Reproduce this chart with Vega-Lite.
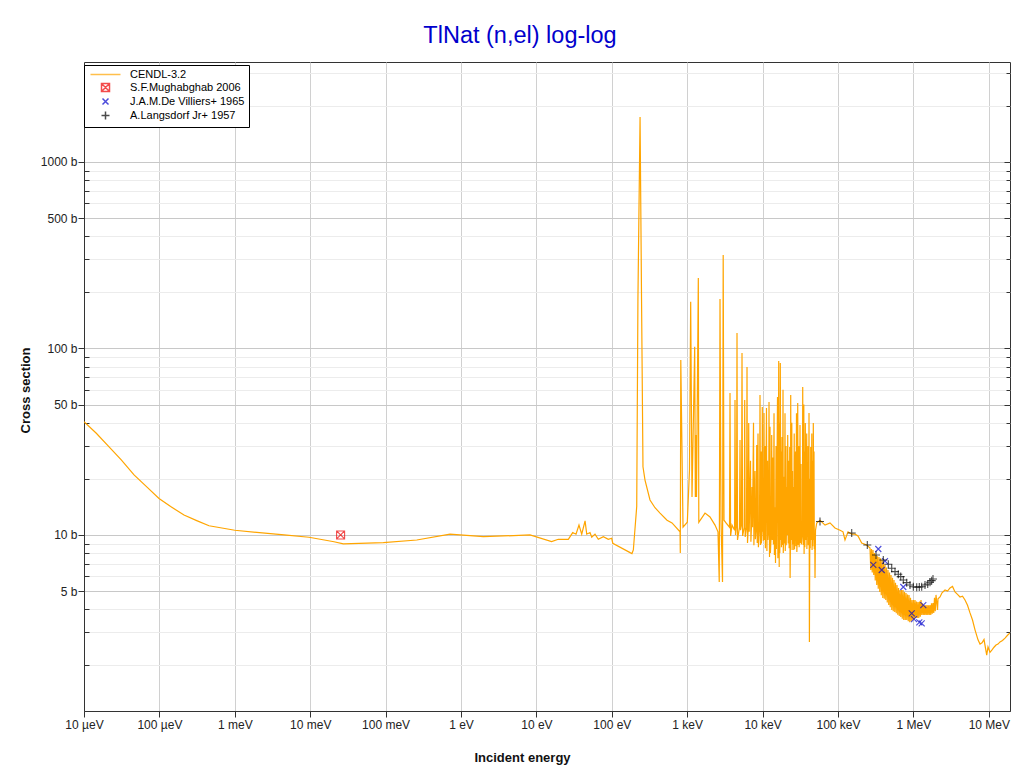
{
  "$schema": "https://vega.github.io/schema/vega-lite/v6.json",
  "width": 926,
  "height": 649,
  "autosize": {"type": "none"},
  "padding": {"left": 84, "top": 62, "right": 14, "bottom": 62},
  "background": "white",
  "title": {"text": "TlNat (n,el) log-log", "font": "Liberation Sans", "fontSize": 23.5, "fontWeight": "normal", "color": "#0000cc", "anchor": "middle", "dx": -27, "offset": 15},
  "config": {
    "view": {"stroke": "#333333", "strokeWidth": 1},
    "font": "Liberation Sans",
    "axis": {"labelFont": "Liberation Sans", "titleFont": "Liberation Sans", "labelFontSize": 12, "labelColor": "#222222", "domainColor": "#333333", "tickColor": "#333333", "titleFontSize": 13, "titleFontWeight": "bold", "titleColor": "#111111"},
    "legend": {"labelFont": "Liberation Sans"}
  },
  "datasets": {
    "cendl": [
      {"E": 1e-5, "xs": 40.5}, {"E": 1.456e-5, "xs": 35.1}, {"E": 2.15e-5, "xs": 29.7}, {"E": 3.12e-5, "xs": 25.3}, {"E": 4.61e-5, "xs": 21.0}, {"E": 6.91e-5, "xs": 18.0}, {"E": 9.88e-5, "xs": 15.7},
      {"E": 1.41e-4, "xs": 14.2}, {"E": 2.12e-4, "xs": 12.8}, {"E": 3.18e-4, "xs": 11.9}, {"E": 4.55e-4, "xs": 11.2}, {"E": 1e-3, "xs": 10.6}, {"E": 4.5e-3, "xs": 10.0},
      {"E": 9.64e-3, "xs": 9.72}, {"E": 0.0207, "xs": 9.2}, {"E": 0.0275, "xs": 8.95}, {"E": 0.0933, "xs": 9.09},
      {"E": 0.259, "xs": 9.4}, {"E": 0.714, "xs": 10.1}, {"E": 1.98, "xs": 9.79}, {"E": 8.22, "xs": 10.0},
      {"E": 15.9, "xs": 9.21}, {"E": 19.5, "xs": 9.48}, {"E": 26.5, "xs": 9.48}, {"E": 30.3, "xs": 10.3},
      {"E": 33.5, "xs": 10.1}, {"E": 36.7, "xs": 11.3}, {"E": 39.9, "xs": 10.1}, {"E": 44.2, "xs": 11.9},
      {"E": 46.5, "xs": 10.1}, {"E": 51.4, "xs": 10.3}, {"E": 54.2, "xs": 9.72}, {"E": 59.9, "xs": 10.1},
      {"E": 66.2, "xs": 9.48}, {"E": 77.2, "xs": 9.79}, {"E": 89.9, "xs": 9.48}, {"E": 99.7, "xs": 9.6},
      {"E": 103, "xs": 9.03}, {"E": 175, "xs": 8.04}, {"E": 185, "xs": 7.95}, {"E": 193, "xs": 8.31},
      {"E": 214, "xs": 14.2}, {"E": 222, "xs": 182}, {"E": 237, "xs": 1742}, {"E": 248, "xs": 182},
      {"E": 259, "xs": 23.2}, {"E": 275.6, "xs": 19.7}, {"E": 321, "xs": 15.4}, {"E": 374, "xs": 14.0}, {"E": 436, "xs": 13.1}, {"E": 540, "xs": 12.0}, {"E": 629, "xs": 11.6}, {"E": 803, "xs": 10.4},
      {"E": 810, "xs": 8.0}, {"E": 822, "xs": 86.8}, {"E": 880, "xs": 11.0}, {"E": 1003, "xs": 11.7},
      {"E": 1072, "xs": 22.3}, {"E": 1112, "xs": 178}, {"E": 1158, "xs": 16.0}, {"E": 1257, "xs": 102},
      {"E": 1282, "xs": 16.0}, {"E": 1309, "xs": 34.4}, {"E": 1328, "xs": 16.0}, {"E": 1404, "xs": 239},
      {"E": 1425, "xs": 11.7}, {"E": 1722, "xs": 13.1}, {"E": 2006, "xs": 12.5}, {"E": 2338, "xs": 11.3},
      {"E": 2560, "xs": 10.4}, {"E": 2660, "xs": 5.6}, {"E": 2723, "xs": 184}, {"E": 2806, "xs": 12.0},
      {"E": 2939, "xs": 5.6}, {"E": 3001, "xs": 317}, {"E": 3076, "xs": 12.0}, {"E": 3271, "xs": 11.6},
      {"E": 3639, "xs": 11.0}, {"E": 3695, "xs": 57.7}, {"E": 3763, "xs": 9.88}, {"E": 3928, "xs": 11.3},
      {"E": 4253, "xs": 10.6}, {"E": 4305, "xs": 53.0}, {"E": 4371, "xs": 10.0}, {"E": 4506, "xs": 11.3},
      {"E": 4576, "xs": 121}, {"E": 4646, "xs": 9.4}, {"E": 4938, "xs": 11.0}, {"E": 5015, "xs": 32.3},
      {"E": 5092, "xs": 10.6}, {"E": 5250, "xs": 11.3}, {"E": 5331, "xs": 94.6}, {"E": 5429, "xs": 9.88},
      {"E": 5719, "xs": 11.0}, {"E": 5789, "xs": 53.0}, {"E": 5878, "xs": 9.76}, {"E": 6117, "xs": 11.0},
      {"E": 6211, "xs": 79.6}, {"E": 6306, "xs": 9.06}, {"E": 6462, "xs": 11.0}, {"E": 6541, "xs": 39.9},
      {"E": 6643, "xs": 10.4}, {"E": 7127, "xs": 11.3}, {"E": 7236, "xs": 18.1}, {"E": 7345, "xs": 11.0},
      {"E": 8227, "xs": 10.9}, {"E": 8354, "xs": 30.4}, {"E": 8482, "xs": 9.06}, {"E": 9097, "xs": 11.0},
      {"E": 9237, "xs": 56.3}, {"E": 9379, "xs": 8.84}, {"E": 9817, "xs": 10.6}, {"E": 9908, "xs": 48.6},
      {"E": 10060, "xs": 10.4}, {"E": 10340, "xs": 10.9}, {"E": 10430, "xs": 45.1}, {"E": 10600, "xs": 9.4},
      {"E": 12010, "xs": 10.9}, {"E": 12160, "xs": 51.6}, {"E": 12350, "xs": 7.62}, {"E": 13040, "xs": 10.4},
      {"E": 13200, "xs": 34.4}, {"E": 13410, "xs": 9.4}, {"E": 14430, "xs": 10.0}, {"E": 14600, "xs": 14.1},
      {"E": 14830, "xs": 7.08}, {"E": 16150, "xs": 10.6}, {"E": 16350, "xs": 85.7}, {"E": 16600, "xs": 6.74},
      {"E": 17010, "xs": 11.0}, {"E": 17170, "xs": 83.6}, {"E": 17430, "xs": 9.4}, {"E": 17920, "xs": 10.4},
      {"E": 18080, "xs": 33.5}, {"E": 18360, "xs": 8.84}, {"E": 19050, "xs": 10.4}, {"E": 19220, "xs": 20.5},
      {"E": 19520, "xs": 9.0}, {"E": 20690, "xs": 10.4}, {"E": 20870, "xs": 18.1}, {"E": 21200, "xs": 10.0},
      {"E": 21520, "xs": 34.4}, {"E": 21850, "xs": 9.0}, {"E": 22670, "xs": 10.0}, {"E": 22880, "xs": 29.6},
      {"E": 23160, "xs": 5.88}, {"E": 23440, "xs": 10.0}, {"E": 23590, "xs": 56.3}, {"E": 23950, "xs": 9.4},
      {"E": 25310, "xs": 10.4}, {"E": 25540, "xs": 18.1}, {"E": 25930, "xs": 8.31}, {"E": 28940, "xs": 10.4},
      {"E": 29210, "xs": 51.0}, {"E": 29660, "xs": 8.84}, {"E": 31050, "xs": 10.0}, {"E": 31330, "xs": 38.9},
      {"E": 31820, "xs": 9.06}, {"E": 33730, "xs": 10.4}, {"E": 34040, "xs": 62.2}, {"E": 34560, "xs": 8.84},
      {"E": 36500, "xs": 10.6}, {"E": 36840, "xs": 39.9}, {"E": 37400, "xs": 9.4}, {"E": 38810, "xs": 10.6},
      {"E": 39160, "xs": 21.5}, {"E": 39770, "xs": 9.76}, {"E": 40870, "xs": 10.4}, {"E": 41250, "xs": 45.1},
      {"E": 41750, "xs": 2.67}, {"E": 43050, "xs": 10.0}, {"E": 43450, "xs": 29.6}, {"E": 44120, "xs": 9.4},
      {"E": 46610, "xs": 10.4}, {"E": 47030, "xs": 39.9}, {"E": 47760, "xs": 9.4}, {"E": 49090, "xs": 10.0},
      {"E": 49550, "xs": 5.88}, {"E": 50300, "xs": 10.6}, {"E": 52180, "xs": 11.6}, {"E": 57700, "xs": 12.0},
      {"E": 6910, "xs": 25}, {"E": 6993, "xs": 9.2}, {"E": 7574, "xs": 40}, {"E": 7665, "xs": 8.8},
      {"E": 7930, "xs": 22}, {"E": 8025, "xs": 9.5}, {"E": 8690, "xs": 35}, {"E": 8794, "xs": 8.6},
      {"E": 9524, "xs": 28}, {"E": 9638, "xs": 9.0}, {"E": 10120, "xs": 20}, {"E": 10240, "xs": 9.3},
      {"E": 10760, "xs": 30}, {"E": 10890, "xs": 8.5}, {"E": 11260, "xs": 48}, {"E": 11400, "xs": 8.2},
      {"E": 11620, "xs": 25}, {"E": 11760, "xs": 9.4}, {"E": 12540, "xs": 38}, {"E": 12690, "xs": 8.0},
      {"E": 13740, "xs": 26}, {"E": 13900, "xs": 8.9}, {"E": 14170, "xs": 45}, {"E": 14340, "xs": 7.8},
      {"E": 15060, "xs": 30}, {"E": 15240, "xs": 8.4}, {"E": 15760, "xs": 55}, {"E": 15950, "xs": 7.5},
      {"E": 16810, "xs": 40}, {"E": 16900, "xs": 8.0}, {"E": 17700, "xs": 28}, {"E": 17790, "xs": 8.6},
      {"E": 18650, "xs": 60}, {"E": 18800, "xs": 8.0}, {"E": 19820, "xs": 45}, {"E": 19980, "xs": 8.2},
      {"E": 20430, "xs": 30}, {"E": 20560, "xs": 8.8}, {"E": 22320, "xs": 25}, {"E": 22480, "xs": 8.5},
      {"E": 24390, "xs": 40}, {"E": 24620, "xs": 8.3}, {"E": 24920, "xs": 22}, {"E": 25100, "xs": 8.9},
      {"E": 26250, "xs": 35}, {"E": 26500, "xs": 8.4}, {"E": 27320, "xs": 28}, {"E": 27600, "xs": 8.7},
      {"E": 28150, "xs": 45}, {"E": 28450, "xs": 8.1}, {"E": 30210, "xs": 30}, {"E": 30500, "xs": 8.6},
      {"E": 32310, "xs": 24}, {"E": 32600, "xs": 8.9}, {"E": 35190, "xs": 50}, {"E": 35500, "xs": 7.9},
      {"E": 36060, "xs": 28}, {"E": 36300, "xs": 8.6}, {"E": 38460, "xs": 35}, {"E": 38650, "xs": 8.4},
      {"E": 40010, "xs": 30}, {"E": 40300, "xs": 8.8}, {"E": 42520, "xs": 20}, {"E": 42800, "xs": 8.5},
      {"E": 44930, "xs": 35}, {"E": 45300, "xs": 8.3}, {"E": 45900, "xs": 25}, {"E": 46250, "xs": 8.7},
      {"E": 48050, "xs": 28}, {"E": 48500, "xs": 8.4},
      {"E": 67300, "xs": 11.3}, {"E": 78340, "xs": 11.6}, {"E": 91200, "xs": 10.9}, {"E": 106400, "xs": 10.6},
      {"E": 116500, "xs": 10.4}, {"E": 123800, "xs": 9.4}, {"E": 135800, "xs": 10.4}, {"E": 152000, "xs": 10.1},
      {"E": 168100, "xs": 10.1}, {"E": 184100, "xs": 9.88}, {"E": 206100, "xs": 9.06}, {"E": 240300, "xs": 8.84},
      {"E": 265700, "xs": 8.52}, {"E": 271900, "xs": 6.49}, {"E": 278200, "xs": 8.4}, {"E": 284600, "xs": 6.3},
      {"E": 291200, "xs": 8.31}, {"E": 297900, "xs": 6.1}, {"E": 304900, "xs": 8.0}, {"E": 311900, "xs": 5.7},
      {"E": 319200, "xs": 7.81}, {"E": 326600, "xs": 5.39}, {"E": 334200, "xs": 7.7}, {"E": 341900, "xs": 5.15},
      {"E": 349900, "xs": 7.62}, {"E": 358000, "xs": 4.95}, {"E": 366300, "xs": 7.5}, {"E": 374800, "xs": 4.75},
      {"E": 383500, "xs": 7.34}, {"E": 392400, "xs": 4.6}, {"E": 401500, "xs": 7.1}, {"E": 410800, "xs": 4.55},
      {"E": 420200, "xs": 6.91}, {"E": 429900, "xs": 4.48}, {"E": 439900, "xs": 6.7}, {"E": 450100, "xs": 4.35},
      {"E": 460400, "xs": 6.49}, {"E": 471100, "xs": 4.21}, {"E": 482000, "xs": 6.3}, {"E": 493100, "xs": 4.1},
      {"E": 504600, "xs": 6.1}, {"E": 516300, "xs": 3.96}, {"E": 528300, "xs": 5.9}, {"E": 540500, "xs": 3.9},
      {"E": 552900, "xs": 5.74}, {"E": 565700, "xs": 3.86}, {"E": 578800, "xs": 5.55}, {"E": 592200, "xs": 3.8},
      {"E": 606000, "xs": 5.39}, {"E": 620100, "xs": 3.73}, {"E": 634400, "xs": 5.2}, {"E": 649100, "xs": 3.68},
      {"E": 664200, "xs": 5.07}, {"E": 679600, "xs": 3.63}, {"E": 695300, "xs": 5.07}, {"E": 711400, "xs": 3.55},
      {"E": 727900, "xs": 5.07}, {"E": 744800, "xs": 3.5}, {"E": 762000, "xs": 4.95}, {"E": 779700, "xs": 3.5},
      {"E": 797700, "xs": 4.89}, {"E": 816200, "xs": 3.5}, {"E": 835100, "xs": 4.8}, {"E": 854400, "xs": 3.45},
      {"E": 874200, "xs": 4.77}, {"E": 894500, "xs": 3.41}, {"E": 915200, "xs": 4.6}, {"E": 936400, "xs": 3.45},
      {"E": 958100, "xs": 4.48}, {"E": 980300, "xs": 3.5}, {"E": 1003000, "xs": 4.48}, {"E": 1026000, "xs": 3.55},
      {"E": 1050000, "xs": 4.48}, {"E": 1074000, "xs": 3.59}, {"E": 1099000, "xs": 4.4}, {"E": 1125000, "xs": 3.59},
      {"E": 1151000, "xs": 4.37}, {"E": 1178000, "xs": 3.59}, {"E": 1205000, "xs": 4.4}, {"E": 1233000, "xs": 3.65},
      {"E": 1261000, "xs": 4.48}, {"E": 1290000, "xs": 3.73}, {"E": 1320000, "xs": 4.3}, {"E": 1351000, "xs": 3.73},
      {"E": 1382000, "xs": 4.21}, {"E": 1414000, "xs": 3.73}, {"E": 1447000, "xs": 4.2}, {"E": 1480000, "xs": 3.73},
      {"E": 1515000, "xs": 4.21}, {"E": 1550000, "xs": 3.73}, {"E": 1586000, "xs": 4.2}, {"E": 1623000, "xs": 3.73},
      {"E": 1660000, "xs": 4.21}, {"E": 1699000, "xs": 3.73}, {"E": 1738000, "xs": 4.3}, {"E": 1778000, "xs": 3.78},
      {"E": 1819000, "xs": 4.32}, {"E": 1861000, "xs": 3.82}, {"E": 1904000, "xs": 4.6}, {"E": 1948000, "xs": 3.9},
      {"E": 1994000, "xs": 4.77}, {"E": 2088000, "xs": 3.96}, {"E": 2120000, "xs": 4.55}, {"E": 2253000, "xs": 4.65},
      {"E": 2395000, "xs": 4.9}, {"E": 2625000, "xs": 5.07}, {"E": 2834000, "xs": 5.0}, {"E": 3058000, "xs": 5.2},
      {"E": 3301000, "xs": 5.3}, {"E": 3562000, "xs": 4.95}, {"E": 3845000, "xs": 4.8}, {"E": 4150000, "xs": 4.65},
      {"E": 4480000, "xs": 4.7}, {"E": 4835000, "xs": 4.48}, {"E": 5219000, "xs": 4.2}, {"E": 5632000, "xs": 3.82},
      {"E": 6079000, "xs": 3.5}, {"E": 6561000, "xs": 3.1}, {"E": 7192000, "xs": 2.74}, {"E": 7643000, "xs": 2.6},
      {"E": 8125000, "xs": 2.64}, {"E": 8637000, "xs": 2.75}, {"E": 9378000, "xs": 2.27}, {"E": 9759000, "xs": 2.51},
      {"E": 10370000, "xs": 2.35}, {"E": 11030000, "xs": 2.42}, {"E": 11720000, "xs": 2.5}, {"E": 12460000, "xs": 2.57},
      {"E": 13240000, "xs": 2.6}, {"E": 14080000, "xs": 2.67}, {"E": 15190000, "xs": 2.72}, {"E": 16400000, "xs": 2.8},
      {"E": 17700000, "xs": 2.9}, {"E": 19110000, "xs": 2.98}
    ],
    "exp": [
      {"E": 0.0253, "xs": 10.0, "series": "S.F.Mughabghab 2006"},
      {"E": 293900, "xs": 6.91, "series": "J.A.M.De Villiers+ 1965"},
      {"E": 342400, "xs": 8.41, "series": "J.A.M.De Villiers+ 1965"},
      {"E": 379900, "xs": 6.49, "series": "J.A.M.De Villiers+ 1965"},
      {"E": 420200, "xs": 7.25, "series": "J.A.M.De Villiers+ 1965"},
      {"E": 734500, "xs": 5.26, "series": "J.A.M.De Villiers+ 1965"},
      {"E": 949600, "xs": 3.8, "series": "J.A.M.De Villiers+ 1965"},
      {"E": 1019000, "xs": 3.54, "series": "J.A.M.De Villiers+ 1965"},
      {"E": 1197000, "xs": 3.4, "series": "J.A.M.De Villiers+ 1965"},
      {"E": 1288000, "xs": 3.36, "series": "J.A.M.De Villiers+ 1965"},
      {"E": 1353000, "xs": 4.21, "series": "J.A.M.De Villiers+ 1965"},
      {"E": 57700, "xs": 11.8, "series": "A.Langsdorf Jr+ 1957"},
      {"E": 152000, "xs": 10.25, "series": "A.Langsdorf Jr+ 1957"},
      {"E": 244700, "xs": 8.84, "series": "A.Langsdorf Jr+ 1957"},
      {"E": 319200, "xs": 7.81, "series": "A.Langsdorf Jr+ 1957"},
      {"E": 398900, "xs": 7.34, "series": "A.Langsdorf Jr+ 1957"},
      {"E": 464700, "xs": 6.96, "series": "A.Langsdorf Jr+ 1957"},
      {"E": 515500, "xs": 6.63, "series": "A.Langsdorf Jr+ 1957"},
      {"E": 570200, "xs": 6.36, "series": "A.Langsdorf Jr+ 1957"},
      {"E": 630500, "xs": 6.16, "series": "A.Langsdorf Jr+ 1957"},
      {"E": 678600, "xs": 5.98, "series": "A.Langsdorf Jr+ 1957"},
      {"E": 734500, "xs": 5.74, "series": "A.Langsdorf Jr+ 1957"},
      {"E": 815000, "xs": 5.55, "series": "A.Langsdorf Jr+ 1957"},
      {"E": 901200, "xs": 5.39, "series": "A.Langsdorf Jr+ 1957"},
      {"E": 997000, "xs": 5.28, "series": "A.Langsdorf Jr+ 1957"},
      {"E": 1106000, "xs": 5.24, "series": "A.Langsdorf Jr+ 1957"},
      {"E": 1197000, "xs": 5.26, "series": "A.Langsdorf Jr+ 1957"},
      {"E": 1288000, "xs": 5.28, "series": "A.Langsdorf Jr+ 1957"},
      {"E": 1425000, "xs": 5.39, "series": "A.Langsdorf Jr+ 1957"},
      {"E": 1548000, "xs": 5.46, "series": "A.Langsdorf Jr+ 1957"},
      {"E": 1660000, "xs": 5.58, "series": "A.Langsdorf Jr+ 1957"},
      {"E": 1748000, "xs": 5.69, "series": "A.Langsdorf Jr+ 1957"},
      {"E": 1819000, "xs": 5.81, "series": "A.Langsdorf Jr+ 1957"}
    ]
  },
  "encoding": {
    "x": {"field": "E", "type": "quantitative", "scale": {"type": "log", "domain": [1e-5, 1.91e7], "nice": false},
      "axis": {"orient": "bottom", "values": [1e-5, 1e-4, 1e-3, 1e-2, 0.1, 1, 10, 100, 1000, 1e4, 1e5, 1e6, 1e7],
        "labelExpr": "datum.value < 0.0009 ? format(datum.value*1e6,'.0f')+' µeV' : datum.value < 0.9 ? format(datum.value*1e3,'.0f')+' meV' : datum.value < 900 ? format(datum.value,'.0f')+' eV' : datum.value < 9e5 ? format(datum.value/1e3,'.0f')+' keV' : format(datum.value/1e6,'.0f')+' MeV'",
        "grid": true, "gridColor": "#d0d0d0", "tickSize": 6, "labelPadding": 2, "labelFlush": false, "labelOverlap": false,
        "title": "Incident energy", "titleX": 438, "titleY": 46, "titleAlign": "center", "titleBaseline": "middle"}}
  },
  "layer": [
    {
      "data": {"name": "cendl"},
      "mark": {"type": "line", "color": "#FFA500", "strokeWidth": 1.2, "clip": true},
      "encoding": {
        "y": {"field": "xs", "type": "quantitative", "scale": {"type": "log", "domain": [1.138, 3436], "nice": false},
          "axis": {"orient": "left", "values": [2, 3, 4, 5, 6, 7, 8, 9, 10, 20, 30, 40, 50, 60, 70, 80, 90, 100, 200, 300, 400, 500, 600, 700, 800, 900, 1000, 2000, 3000],
            "labelExpr": "indexof([5,10,50,100,500,1000], datum.value) >= 0 ? datum.value + ' b' : ''",
            "grid": true,
            "gridColor": {"condition": {"test": "indexof([5,10,50,100,500,1000], datum.value) >= 0", "value": "#c8c8c8"}, "value": "#ececec"},
            "tickSize": {"condition": {"test": "indexof([5,10,50,100,500,1000], datum.value) >= 0", "value": 6}, "value": -5},
            "labelPadding": 1, "labelOverlap": false, "labelFlush": false,
            "title": "Cross section", "titleX": -59, "titleY": 328, "titleAlign": "center", "titleBaseline": "middle", "titleAngle": -90}}
      }
    },
    {
      "data": {"name": "exp"},
      "mark": {"type": "point", "filled": false, "strokeWidth": 1.1, "size": 64, "clip": true},
      "encoding": {
        "y": {"field": "xs", "type": "quantitative",
          "axis": {"orient": "right", "values": [2, 3, 4, 5, 6, 7, 8, 9, 10, 20, 30, 40, 50, 60, 70, 80, 90, 100, 200, 300, 400, 500, 600, 700, 800, 900, 1000, 2000, 3000],
            "labels": false, "grid": false, "domain": false, "title": null,
            "tickSize": {"condition": {"test": "indexof([5,10,50,100,500,1000], datum.value) >= 0", "value": -6}, "value": -4}}},
        "color": {"field": "series", "type": "nominal",
          "scale": {"domain": ["CENDL-3.2", "S.F.Mughabghab 2006", "J.A.M.De Villiers+ 1965", "A.Langsdorf Jr+ 1957"], "range": ["#FFA500", "#ee0000", "#0000cc", "#000000"]},
          "legend": {"title": null, "orient": "none", "legendX": 0, "legendY": 3, "padding": 4, "strokeColor": "#000000", "fillColor": "#ffffff", "cornerRadius": 0,
            "labelFontSize": 11, "labelColor": "#000000", "symbolSize": 64, "symbolStrokeWidth": 1.5, "symbolOffset": 12, "labelOffset": 19, "rowPadding": 0}},
        "shape": {"field": "series", "type": "nominal",
          "scale": {"domain": ["CENDL-3.2", "S.F.Mughabghab 2006", "J.A.M.De Villiers+ 1965", "A.Langsdorf Jr+ 1957"],
            "range": ["M-3.75,0H3.75", "M-1,-1H1V1H-1ZM-1,-1L1,1M1,-1L-1,1", "M-0.75,-0.75L0.75,0.75M0.75,-0.75L-0.75,0.75", "M-1,0H1M0,-1V1"]},
          "legend": {"title": null, "orient": "none", "legendX": 0, "legendY": 3}}
      }
    }
  ]
}
